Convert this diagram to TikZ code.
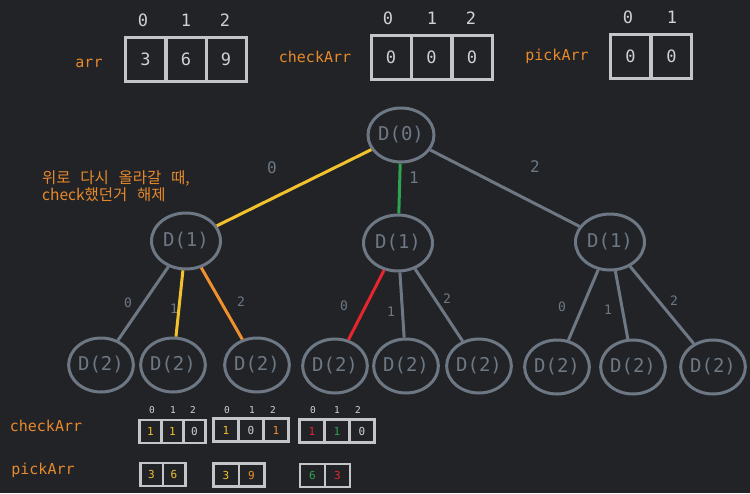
\documentclass[tikz,border=0pt]{standalone}
\usepackage{fontspec}
\setmonofont{DejaVu Sans Mono}
\newfontfamily\cjk[WordSpace=2.8]{Noto Sans CJK KR}
\usetikzlibrary{shapes.geometric}

\definecolor{bgcol}{HTML}{212327}
\definecolor{nodegray}{HTML}{6E7884}
\definecolor{boxgray}{HTML}{C3C5C8}
\definecolor{digitgray}{HTML}{CFD1D3}
\definecolor{lblorange}{HTML}{E8892C}
\definecolor{edgeyellow}{HTML}{F2C12E}
\definecolor{edgegreen}{HTML}{2EA44F}
\definecolor{edgered}{HTML}{E5262F}
\definecolor{edgeorange}{HTML}{F0902C}

\tikzset{
	dnode/.style={ellipse, draw=nodegray, line width=3pt, text=nodegray, inner sep=0pt, font=\ttfamily\fontsize{19}{19}\selectfont},
	arrlbl/.style={text=lblorange, font=\ttfamily\fontsize{15}{15}\selectfont},
	idx/.style={text=digitgray, font=\ttfamily\fontsize{17}{17}\selectfont},
	bigcell/.style={draw=boxgray, line width=3pt, text=digitgray, minimum width=40pt, minimum height=44pt, inner sep=0pt, font=\ttfamily\fontsize{17}{17}\selectfont},
	smallcell/.style={draw=boxgray, fill=bgcol, line width=2.5pt, minimum height=23pt, inner sep=0pt, font=\ttfamily\fontsize{11}{11}\selectfont},
	smallidx/.style={text=digitgray, font=\ttfamily\fontsize{9.5}{9.5}\selectfont},
	elbl/.style={text=nodegray, font=\ttfamily\fontsize{16}{16}\selectfont},
	slbl/.style={text=nodegray, font=\ttfamily\fontsize{13}{13}\selectfont},
	edge/.style={line width=3pt, draw=nodegray}
}

\begin{document}
\begin{tikzpicture}[x=1pt,y=-1pt]
	\fill[bgcol] (0,0) rectangle (750,493);
	\useasboundingbox (0,0) rectangle (750,493);

	% arrays at the top
	\node[arrlbl] (arrname) at (89,63) {arr};
	\node[bigcell] (a0) at (145.5,59) {3};
	\node[bigcell] (a1) at (186,59) {6};
	\node[bigcell] (a2) at (226,59) {9};
	\node[idx] (ai0) at (143,20) {0};
	\node[idx] (ai1) at (186,20) {1};
	\node[idx] (ai2) at (225,20) {2};

	\node[arrlbl] (checkname) at (315,57) {checkArr};
	\node[bigcell] (c0) at (391,57) {0};
	\node[bigcell] (c1) at (431.5,57) {0};
	\node[bigcell] (c2) at (472,57) {0};
	\node[idx] (ci0) at (388,18) {0};
	\node[idx] (ci1) at (432,18) {1};
	\node[idx] (ci2) at (471,18) {2};

	\node[arrlbl] (pickname) at (557,56) {pickArr};
	\node[bigcell] (p0) at (630.5,56.5) {0};
	\node[bigcell] (p1) at (671.5,56.5) {0};
	\node[idx] (pi0) at (628,17) {0};
	\node[idx] (pi1) at (672,17) {1};

	% note
	\node[text=lblorange, anchor=west, align=left, inner sep=0pt, font=\cjk\fontsize{15.5}{17}\selectfont] (note) at (42,186) {위로 다시 올라갈 때,\\check했던거 해제};

	% tree
	\node[dnode, minimum width=66pt, minimum height=54pt] (d0) at (401,135) {D(0)};
	\node[dnode, minimum width=69pt, minimum height=56pt] (d1a) at (186,241) {D(1)};
	\node[dnode, minimum width=69pt, minimum height=56pt] (d1b) at (398,243) {D(1)};
	\node[dnode, minimum width=69pt, minimum height=56pt] (d1c) at (610,242) {D(1)};

	\node[dnode, minimum width=58pt, minimum height=54pt] (d2a) at (101,365) {D(2)};
	\node[dnode, minimum width=58pt, minimum height=54pt] (d2b) at (173,365) {D(2)};
	\node[dnode, minimum width=58pt, minimum height=54pt] (d2c) at (257,365) {D(2)};
	\node[dnode, minimum width=58pt, minimum height=54pt] (d2d) at (335,366) {D(2)};
	\node[dnode, minimum width=58pt, minimum height=54pt] (d2e) at (406,366) {D(2)};
	\node[dnode, minimum width=58pt, minimum height=54pt] (d2f) at (479,366) {D(2)};
	\node[dnode, minimum width=58pt, minimum height=54pt] (d2g) at (557,367) {D(2)};
	\node[dnode, minimum width=58pt, minimum height=54pt] (d2h) at (633,367) {D(2)};
	\node[dnode, minimum width=58pt, minimum height=54pt] (d2i) at (713,367) {D(2)};

	\draw[edge, draw=edgeyellow] (d0) -- (d1a);
	\draw[edge, draw=edgegreen] (d0) -- (d1b);
	\draw[edge] (d0) -- (d1c);
	\node[elbl] (e0) at (272,168) {0};
	\node[elbl] (e1) at (414,178) {1};
	\node[elbl] (e2) at (535,167) {2};

	\draw[edge] (d1a) -- (d2a);
	\draw[edge, draw=edgeyellow] (d1a) -- (d2b);
	\draw[edge, draw=edgeorange] (d1a) -- (d2c);
	\node[slbl] (ea0) at (128,303) {0};
	\node[slbl] (ea1) at (174,309) {1};
	\node[slbl] (ea2) at (241,302) {2};

	\draw[edge, draw=edgered] (d1b) -- (d2d);
	\draw[edge] (d1b) -- (d2e);
	\draw[edge] (d1b) -- (d2f);
	\node[slbl] (eb0) at (344,306) {0};
	\node[slbl] (eb1) at (391,312) {1};
	\node[slbl] (eb2) at (447,299) {2};

	\draw[edge] (d1c) -- (d2g);
	\draw[edge] (d1c) -- (d2h);
	\draw[edge] (d1c) -- (d2i);
	\node[slbl] (ec0) at (562,307) {0};
	\node[slbl] (ec1) at (608,310) {1};
	\node[slbl] (ec2) at (674,301) {2};

	% arrays at the bottom
	\node[arrlbl] (checkname2) at (46,426) {checkArr};
	\node[arrlbl] (pickname2) at (43,470) {pickArr};

	\node[smallidx] (si10) at (152,410) {0};
	\node[smallidx] (si11) at (173,410) {1};
	\node[smallidx] (si12) at (193,410) {2};
	\node[smallcell, minimum width=22pt, text=edgeyellow] (sc10) at (150.5,431.5) {1};
	\node[smallcell, minimum width=22pt, text=edgeyellow] (sc11) at (172.5,431.5) {1};
	\node[smallcell, minimum width=22pt, text=digitgray] (sc12) at (194.5,431.5) {0};
	\node[smallcell, minimum width=22.5pt, text=edgeyellow] (sp10) at (151.5,474.5) {3};
	\node[smallcell, minimum width=22.5pt, text=edgeyellow] (sp11) at (174,474.5) {6};

	\node[smallidx] (si20) at (227,410) {0};
	\node[smallidx] (si21) at (252,410) {1};
	\node[smallidx] (si22) at (273,410) {2};
	\node[smallcell, minimum width=25pt, text=edgeyellow] (sc20) at (226,430) {1};
	\node[smallcell, minimum width=25pt, text=digitgray] (sc21) at (251,430) {0};
	\node[smallcell, minimum width=25pt, text=edgeorange] (sc22) at (276,430) {1};
	\node[smallcell, minimum width=25.5pt, text=edgeyellow] (sp20) at (226,475) {3};
	\node[smallcell, minimum width=25.5pt, text=edgeorange] (sp21) at (251.5,475) {9};

	\node[smallidx] (si30) at (313,410) {0};
	\node[smallidx] (si31) at (337,410) {1};
	\node[smallidx] (si32) at (358,410) {2};
	\node[smallcell, minimum width=25pt, text=edgered] (sc30) at (312,431) {1};
	\node[smallcell, minimum width=25pt, text=edgegreen] (sc31) at (337,431) {1};
	\node[smallcell, minimum width=25pt, text=digitgray] (sc32) at (362,431) {0};
	\node[smallcell, minimum width=25pt, text=edgegreen] (sp30) at (312.5,475.5) {6};
	\node[smallcell, minimum width=25pt, text=edgered] (sp31) at (337.5,475.5) {3};
\end{tikzpicture}
\end{document}
